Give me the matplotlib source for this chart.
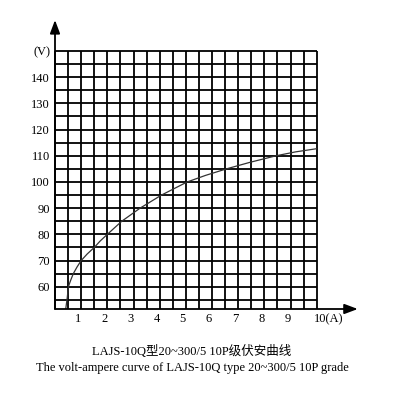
import matplotlib
matplotlib.use("Agg")
import matplotlib.pyplot as plt
import matplotlib.transforms as mtransforms
import numpy as np

# curve: current (A) vs voltage (V)
CURRENT = [0.41, 0.47, 0.51, 0.60, 0.70, 0.84, 1.00, 1.23, 1.50, 1.73, 2.00,
           2.55, 3.25, 4.07, 5.05, 5.75, 6.55, 7.45, 8.45, 9.20, 10.0]
VOLTAGE = [51.5, 56.0, 60.0, 62.5, 65.0, 67.5, 70.0, 72.5, 75.0, 77.5, 80.0,
           85.0, 90.0, 95.0, 100.0, 102.5, 105.0, 107.5, 110.0, 111.5, 112.7]

X_TICKS = [1, 2, 3, 4, 5, 6, 7, 8, 9]
Y_TICKS = [60, 70, 80, 90, 100, 110, 120, 130, 140]
X_GRID = np.arange(0, 10.01, 0.5)
Y_GRID = np.arange(55, 150.01, 5)

TITLE_CN = "LAJS-10Q型20~300/5 10P级伏安曲线"
TITLE_EN = "The volt-ampere curve of LAJS-10Q type 20~300/5 10P grade"

SERIF = ["Liberation Serif", "Noto Sans CJK SC", "DejaVu Serif"]

fig = plt.figure(figsize=(3.96, 3.95), dpi=100)
ax = fig.add_axes([55 / 396, 1 - 309 / 395, 261.7 / 396, 258 / 395])
ax.set_xlim(0, 10)
ax.set_ylim(51.5, 150)
ax.axis("off")

ax.vlines(X_GRID, 51.5, 150, color="black", lw=1.3, clip_on=False)
ax.hlines(Y_GRID, 0, 10, color="black", lw=1.3, clip_on=False)

ax.plot(CURRENT, VOLTAGE, color="#333333", lw=0.9, solid_joinstyle="round")

arrow = dict(arrowstyle="-|>,head_length=0.4,head_width=0.15",
             mutation_scale=20, color="black", lw=1.3, shrinkA=0, shrinkB=0)
ax.annotate("", xy=(1.157, 0), xytext=(0, 0), xycoords="axes fraction",
            arrowprops=arrow)
ax.annotate("", xy=(0, 1.12), xytext=(0, 0), xycoords="axes fraction",
            arrowprops=arrow)

# tick labels (drawn as text, slightly left of the grid lines like the original)
shift_x = mtransforms.ScaledTranslation(-3 / 100, -4 / 100, fig.dpi_scale_trans)
for v in X_TICKS:
    ax.text(v, 51.5, str(v), transform=ax.transData + shift_x, ha="center",
            va="top", fontsize=9, family=SERIF)
ax.text(10, 51.5, "10(A)", transform=ax.transData + shift_x, ha="left",
        va="top", fontsize=9, family=SERIF)

shift_y = mtransforms.ScaledTranslation(-5 / 100, -1.5 / 100, fig.dpi_scale_trans)
for v in Y_TICKS:
    ax.text(0, v, str(v), transform=ax.transData + shift_y, ha="right",
            va="center", fontsize=9, family=SERIF)
ax.text(0, 150, "(V)", transform=ax.transData + shift_y, ha="right",
        va="center", fontsize=9, family=SERIF)

fig.text(192 / 396, 1 - 351.5 / 395, TITLE_CN, ha="center", va="center",
         fontsize=9, family=SERIF)
fig.text(192 / 396, 1 - 367.5 / 395, TITLE_EN, ha="center", va="center",
         fontsize=9, family=SERIF)

fig.savefig("out.png", dpi=100)
